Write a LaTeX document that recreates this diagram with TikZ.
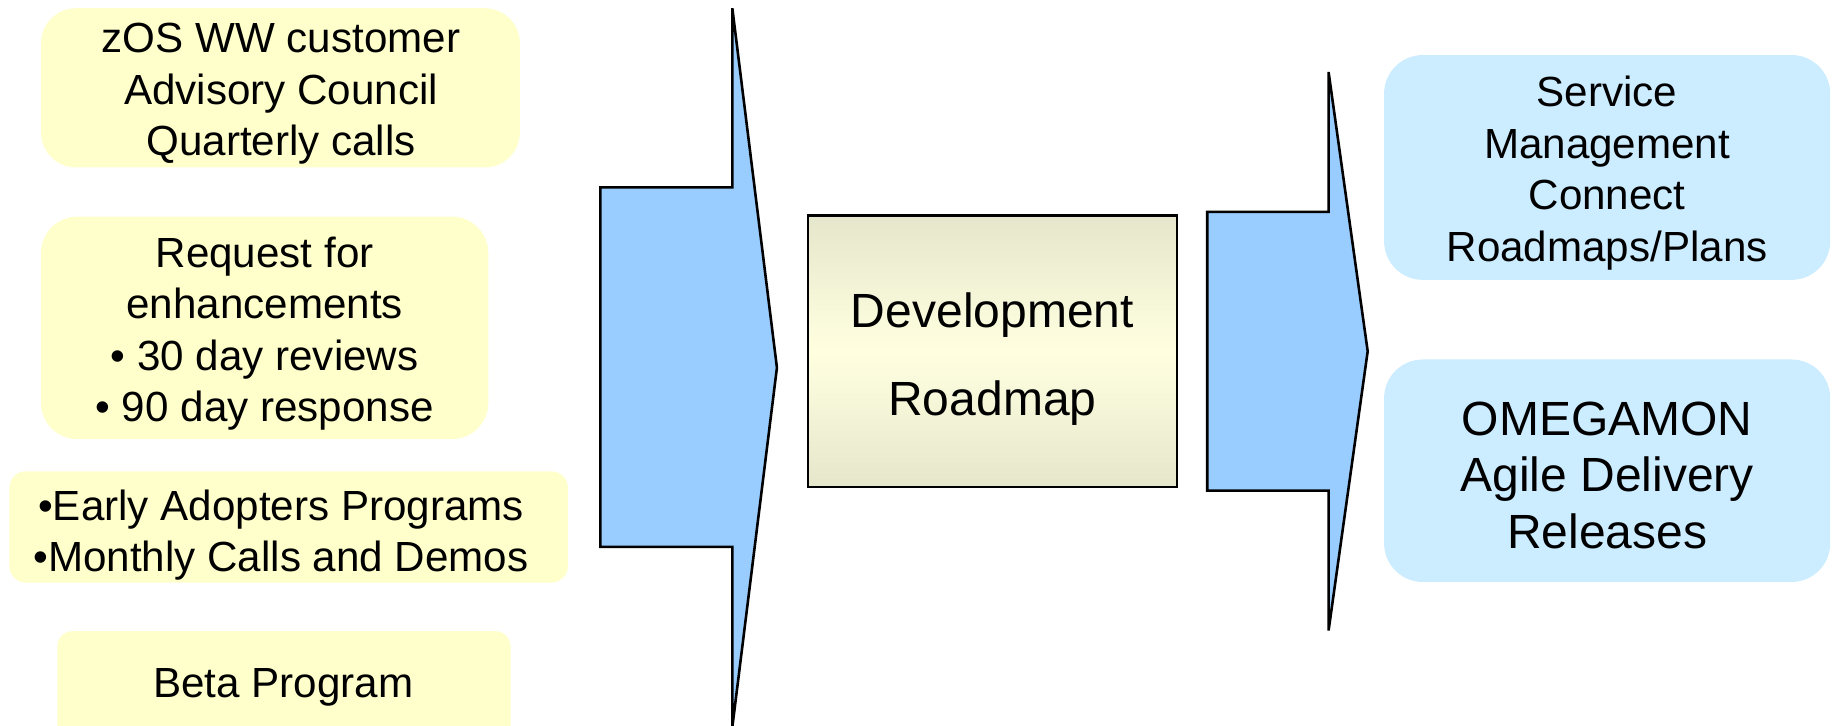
\documentclass[tikz,border=0pt]{standalone}
\usepackage{fontspec}
\setmainfont{Liberation Sans}
\definecolor{ylw}{HTML}{FFFFCC}
\definecolor{lblue}{HTML}{CCECFF}
\definecolor{arrblue}{HTML}{99CCFF}
\definecolor{devedge}{HTML}{E6E6CC}
\definecolor{devmid}{HTML}{FFFFE0}
\tikzset{
  ybox/.style={fill=ylw, inner sep=0pt},
  bbox/.style={fill=lblue, inner sep=0pt},
  txt/.style={inner sep=0pt, align=center, font=\fontsize{36}{44}\selectfont},
  bigarrow/.style={fill=arrblue, draw=black, line width=2.2pt, line join=miter},
  devbox/.style={draw=black, line width=2.2pt, top color=devedge, bottom color=devedge, middle color=devmid,
    inner sep=0pt}
}
\begin{document}
\begin{tikzpicture}[x=1pt,y=-1pt]
\useasboundingbox (0,0) rectangle (1568.8,620);
\clip (0,0) rectangle (1568.8,620);
% left yellow boxes
\node[ybox, minimum width=409, minimum height=136, rounded corners=30] (b1) at (239.5,75) {};
\node[txt] (b1t) at (240,80) {zOS WW customer\\Advisory Council\\Quarterly calls};
\node[ybox, minimum width=382, minimum height=190, rounded corners=31] (b2) at (226,280) {};
\node[txt] (b2t) at (226,285)
  {Request for\\enhancements\\\textbullet\ 30 day reviews\\\textbullet\ 90 day response};
\node[ybox, minimum width=477, minimum height=95, rounded corners=14] (b3) at (246.5,450) {};
\node[txt] (b3t) at (240,457)
  {\textbullet Early Adopters Programs\\\textbullet Monthly Calls and Demos};
\node[ybox, minimum width=387, minimum height=100, rounded corners=13] (b4) at (242.5,589) {};
\node[txt] (b4t) at (242,587) {Beta Program};
% arrow 1
\coordinate (a1top) at (625.4,7);
\coordinate (a1tip) at (663.5,314);
\draw[bigarrow] (a1top) -- (a1tip) -- (625.4,621) -- (625.4,467) -- (512.7,467)
  -- (512.7,160) -- (625.4,160) -- cycle;
% development box
\node[devbox, minimum width=315, minimum height=232] (dev) at (847.5,300) {};
\node[txt, font=\fontsize{41}{75}\selectfont] (devt) at (847.5,307) {Development\\Roadmap};
% arrow 2
\coordinate (a2top) at (1134.6,61.5);
\coordinate (a2tip) at (1168,300);
\draw[bigarrow] (a2top) -- (a2tip) -- (1134.6,538.5) -- (1134.6,419) -- (1031,419)
  -- (1031,181) -- (1134.6,181) -- cycle;
% right boxes
\node[bbox, minimum width=381, minimum height=192, rounded corners=33] (r1) at (1372.5,143) {};
\node[txt] (r1t) at (1372.5,148) {Service\\Management\\Connect\\Roadmaps/Plans};
\node[bbox, minimum width=381, minimum height=190, rounded corners=33] (r2) at (1372.5,402) {};
\node[txt, font=\fontsize{41}{48.5}\selectfont] (r2t) at (1372.5,406)
  {OMEGAMON\\Agile Delivery\\Releases};
\end{tikzpicture}
\end{document}
